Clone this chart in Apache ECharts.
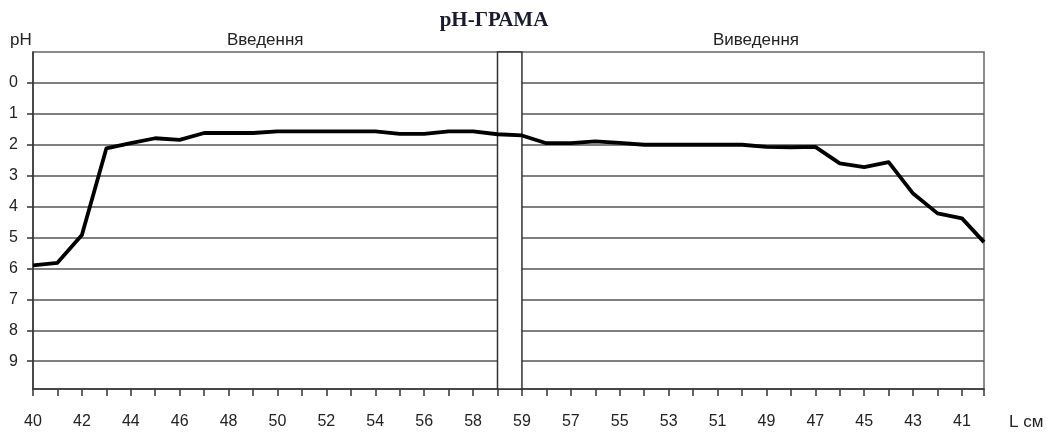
<!DOCTYPE html>
<html>
<head>
<meta charset="utf-8">
<script src="https://cdn.jsdelivr.net/npm/echarts@6/dist/echarts.min.js"></script>
<style>
  html, body { margin: 0; padding: 0; background: #fff; }
  #chart { width: 1054px; height: 435px; }
</style>
</head>
<body>
<div id="chart"></div>
<script>
// Введення: position along the probe (cm) and measured pH
const inCm = [40, 41, 42, 43, 44, 45, 46, 47, 48, 49, 50, 51, 52, 53, 54, 55, 56, 57, 58, 59];
const inPH = [5.9, 5.82, 4.92, 2.12, 1.95, 1.79, 1.84, 1.62, 1.62, 1.62, 1.57, 1.57, 1.57, 1.57, 1.57, 1.65, 1.65, 1.57, 1.57, 1.66];

// Виведення: position along the probe (cm) and measured pH
const outCm = [59, 58, 57, 56, 55, 54, 53, 52, 51, 50, 49, 48, 47, 46, 45, 44, 43, 42, 41, 40.1];
const outPH = [1.7, 1.95, 1.95, 1.89, 1.94, 2.0, 2.0, 2.0, 2.0, 2.0, 2.07, 2.08, 2.07, 2.6, 2.72, 2.56, 3.58, 4.22, 4.38, 5.15];

// Tick labels
const inTickLabels = [40, 42, 44, 46, 48, 50, 52, 54, 56, 58];
const outTickLabels = [59, 57, 55, 53, 51, 49, 47, 45, 43, 41];
const phTicks = [0, 1, 2, 3, 4, 5, 6, 7, 8, 9];

// The two passes share one horizontal axis: insertion runs 40→59,
// a one-step blank column separates it from withdrawal running 59→40.
const IN_START = 40, TOP_CM = 59, GAP = 1;
const OUT_START = (TOP_CM - IN_START) + GAP;          // axis position of withdrawal's 59
const AXIS_END = OUT_START + (TOP_CM - IN_START) - 0.1; // right edge of the frame
const posIn = cm => cm - IN_START;
const posOut = cm => OUT_START + (TOP_CM - cm);

const lineData = inCm.map((c, i) => [posIn(c), inPH[i]])
  .concat(outCm.map((c, i) => [posOut(c), outPH[i]]));

const labelPos = inTickLabels.map(posIn).concat(outTickLabels.map(posOut));
const labelText = {};
inTickLabels.forEach(c => { labelText[posIn(c)] = String(c); });
outTickLabels.forEach(c => { labelText[posOut(c)] = String(c); });

const tickPos = [];
for (let p = 0; p <= Math.floor(AXIS_END); p++) tickPos.push(p);
tickPos.push(AXIS_END);

const LABEL_FONT = 'Liberation Sans, Arial, sans-serif';
const TEXT_COLOR = '#222';
const gridLeft = 33, gridRight = 70, gridTop = 52, gridBottom = 46;
const plotW = 1054 - gridLeft - gridRight;
const xPix = p => gridLeft + plotW * p / AXIS_END;

const chart = echarts.init(document.getElementById('chart'), null, { renderer: 'canvas' });
chart.setOption({
  animation: false,
  backgroundColor: '#fff',
  title: {
    text: 'pH-ГРАМА',
    left: 489, top: 5, textAlign: 'center',
    textStyle: { fontFamily: 'Liberation Serif, Times New Roman, serif', fontWeight: 'bold', fontSize: 21, color: '#1a1a2e' }
  },
  graphic: [
    { type: 'text', x: 10, y: 40,
      style: { text: 'pH', font: '17px ' + LABEL_FONT, fill: TEXT_COLOR, align: 'left', verticalAlign: 'middle' } },
    { type: 'text', x: (xPix(0) + xPix(TOP_CM - IN_START)) / 2, y: 40,
      style: { text: 'Введення', font: '17px ' + LABEL_FONT, fill: TEXT_COLOR, align: 'center', verticalAlign: 'middle' } },
    { type: 'text', x: (xPix(OUT_START) + xPix(AXIS_END)) / 2 + 3, y: 40,
      style: { text: 'Виведення', font: '17px ' + LABEL_FONT, fill: TEXT_COLOR, align: 'center', verticalAlign: 'middle' } },
    { type: 'text', x: 1009, y: 422,
      style: { text: 'L см', font: '17px ' + LABEL_FONT, fill: TEXT_COLOR, align: 'left', verticalAlign: 'middle' } }
  ],
  grid: {
    left: gridLeft, right: gridRight, top: gridTop, bottom: gridBottom,
    show: true, borderColor: '#666', borderWidth: 1.5, backgroundColor: '#fff'
  },
  xAxis: {
    type: 'value', min: 0, max: AXIS_END,
    axisLine: { show: true, onZero: false, lineStyle: { color: '#333', width: 1.5 } },
    axisTick: { show: true, length: 7, lineStyle: { color: '#333', width: 1.5 }, customValues: tickPos },
    axisLabel: {
      customValues: labelPos, margin: 25,
      formatter: v => labelText[v] || '',
      fontFamily: LABEL_FONT, fontSize: 16, color: TEXT_COLOR
    },
    splitLine: { show: false }
  },
  yAxis: {
    type: 'value', inverse: true, min: -1, max: 9.9, interval: 1,
    axisLine: { show: true, onZero: false, lineStyle: { color: '#333', width: 1.5 } },
    axisTick: { show: true, length: 6, lineStyle: { color: '#333', width: 1.5 }, customValues: phTicks },
    axisLabel: { customValues: phTicks, margin: 15, fontFamily: LABEL_FONT, fontSize: 16, color: TEXT_COLOR },
    splitLine: { show: true, lineStyle: { color: '#555', width: 1.5 } }
  },
  series: [
    {
      // blank column between the two passes
      type: 'line', z: 1, silent: true, data: [],
      markArea: {
        silent: true,
        itemStyle: { color: '#fff', borderColor: '#333', borderWidth: 1.5 },
        data: [[{ xAxis: TOP_CM - IN_START, yAxis: -1 }, { xAxis: OUT_START, yAxis: 9.9 }]]
      }
    },
    {
      type: 'line', z: 3, data: lineData,
      showSymbol: false, clip: true,
      lineStyle: { color: '#000', width: 3.8, join: 'round', cap: 'butt' }
    }
  ]
});
</script>
</body>
</html>
